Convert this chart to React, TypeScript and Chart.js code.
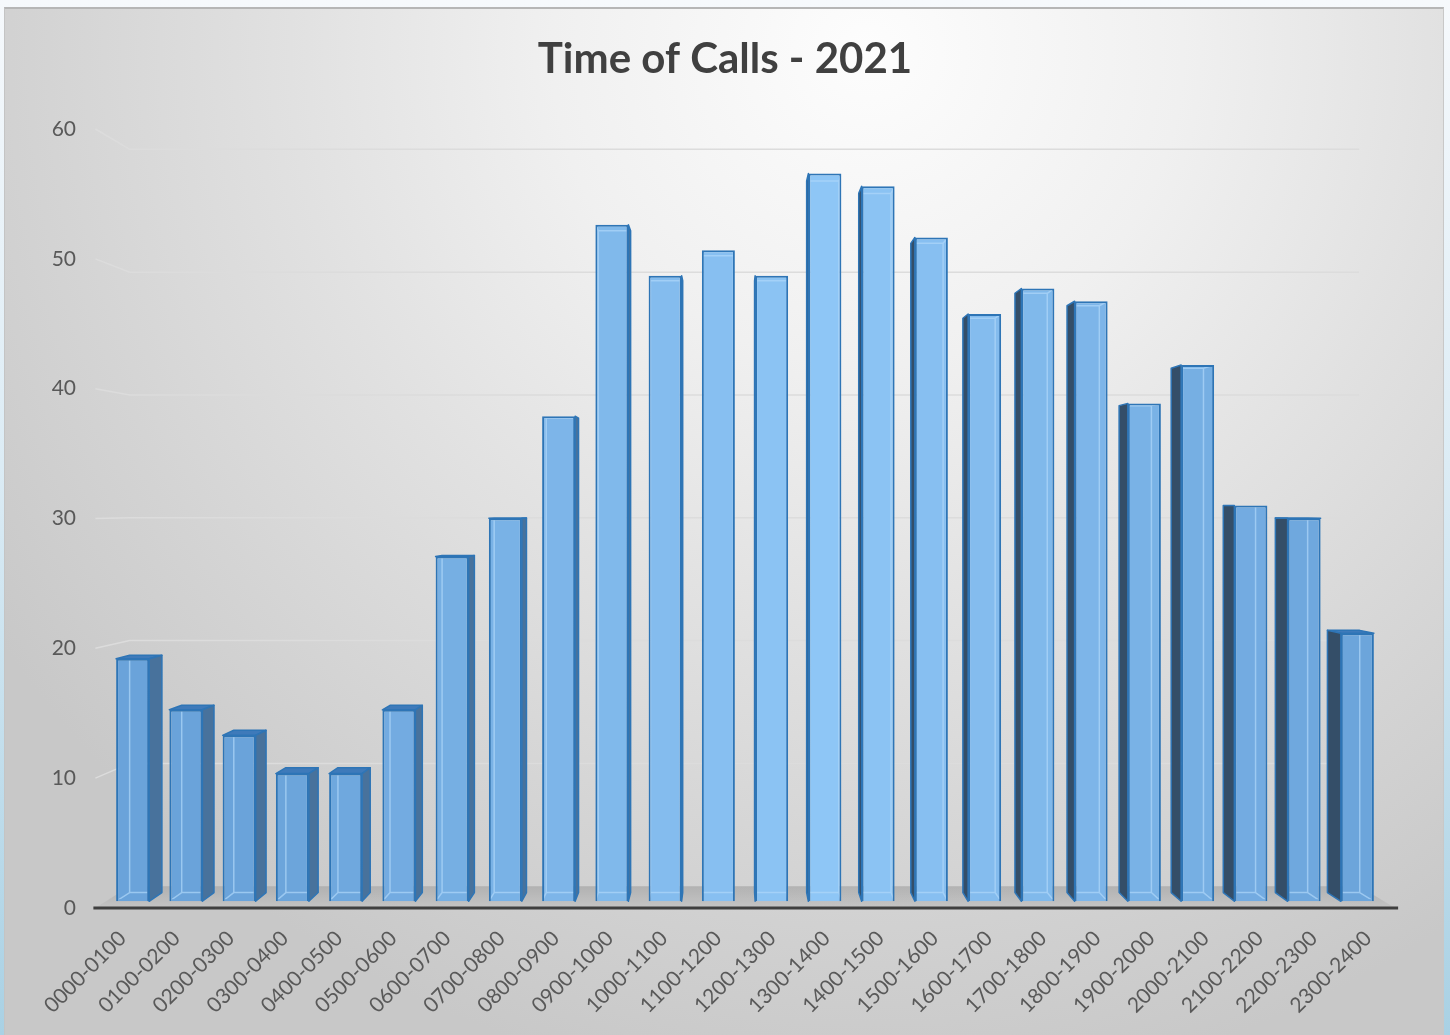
import React, { useEffect, useRef } from 'react';
import { Chart, registerables } from 'chart.js';

Chart.register(...registerables);

const TITLE = 'Time of Calls - 2021';
const CATEGORIES = [
  '0000-0100', '0100-0200', '0200-0300', '0300-0400', '0400-0500', '0500-0600',
  '0600-0700', '0700-0800', '0800-0900', '0900-1000', '1000-1100', '1100-1200',
  '1200-1300', '1300-1400', '1400-1500', '1500-1600', '1600-1700', '1700-1800',
  '1800-1900', '1900-2000', '2000-2100', '2100-2200', '2200-2300', '2300-2400',
];
const CALLS = [19, 15, 13, 10, 10, 15, 27, 30, 38, 53, 49, 51, 49, 57, 56, 52, 46, 48, 47, 39, 42, 31, 30, 21];
const Y_MIN = 0;
const Y_MAX = 60;
const Y_STEP = 10;

// 3-D look (Excel-like perspective)
const FRONT = 1.017;      // axis/label plane relative to bar plane
const BAR_BACK = 0.978;   // back face of each column
const WALL = 0.962;       // back wall (gridlines)
const VANISH_CAT = 11.72; // vanishing point, category units across plot
const VANISH_VAL = 31;    // vanishing point, value units

const N = CATEGORIES.length;
const BAR_AXIS_MIN = VANISH_VAL * (1 - FRONT);
const BAR_AXIS_MAX = VANISH_VAL + (Y_MAX - VANISH_VAL) * FRONT;
const LABEL_AXIS_MIN = VANISH_CAT * (1 - 1 / FRONT) - 0.5;
const LABEL_AXIS_MAX = VANISH_CAT + (N - VANISH_CAT) / FRONT - 0.5;

const FACE_EDGE = [106, 163, 218];
const FACE_MID = [142, 198, 246];
const BORDER = 'rgb(46,117,182)';

function faceColor(i: number) {
  const t = Math.max(0, 1 - Math.abs(i - 13) / 10.5);
  const c = FACE_EDGE.map((v, k) => Math.round(v + (FACE_MID[k] - v) * t));
  return `rgb(${c[0]},${c[1]},${c[2]})`;
}

function poly(ctx: CanvasRenderingContext2D, pts: number[][]) {
  ctx.beginPath();
  ctx.moveTo(pts[0][0], pts[0][1]);
  for (let k = 1; k < pts.length; k++) ctx.lineTo(pts[k][0], pts[k][1]);
  ctx.closePath();
}

function geometry(chart: any) {
  const ca = chart.chartArea;
  const yl = chart.scales.yl;
  const vx = ca.left + (VANISH_CAT / N) * (ca.right - ca.left);
  const vy = yl.getPixelForValue(VANISH_VAL);
  return { ca, yl, vx, vy };
}

const depthPlugin = {
  id: 'depth3d',
  beforeDatasetsDraw(chart: any) {
    const ctx: CanvasRenderingContext2D = chart.ctx;
    const { ca, yl, vx, vy } = geometry(chart);
    const px = (x: number, f: number) => vx + (x - vx) * f;
    const py = (y: number, f: number) => vy + (y - vy) * f;
    ctx.save();
    // walls: floor + gridlines
    for (const t of yl.ticks) {
      const yF = yl.getPixelForValue(t.value);
      const yB = vy + (yF - vy) / FRONT;
      const yW = py(yB, WALL);
      const xfl = px(ca.left, FRONT);
      const xfr = px(ca.right, FRONT);
      const xbl = px(ca.left, WALL);
      const xbr = px(ca.right, WALL);
      if (t.value === Y_MIN) {
        poly(ctx, [[xfl, yF], [xfr, yF], [xbr, yW], [xbl, yW]]);
        const g = ctx.createLinearGradient(0, yW, 0, yF);
        g.addColorStop(0, 'rgba(172,172,172,0.85)');
        g.addColorStop(1, 'rgba(195,195,195,0.85)');
        ctx.fillStyle = g;
        ctx.fill();
      } else {
        ctx.beginPath();
        ctx.moveTo(xfl, yF);
        ctx.lineTo(xbl, yW);
        ctx.lineTo(xbr, yW);
        ctx.strokeStyle = '#dcdcdc';
        ctx.lineWidth = 1.5;
        ctx.stroke();
      }
    }
    // column sides and tops
    const meta = chart.getDatasetMeta(0);
    meta.data.forEach((bar: any) => {
      const { x, y, base, width } = bar.getProps(['x', 'y', 'base', 'width'], true);
      const L = x - width / 2, R = x + width / 2, T = y, B = base;
      const bx = (v: number) => px(v, BAR_BACK);
      const by = (v: number) => py(v, BAR_BACK);
      ctx.lineWidth = 1.5;
      ctx.strokeStyle = BORDER;
      ctx.lineJoin = 'round';
      if (T > vy) {
        poly(ctx, [[L, T], [R, T], [bx(R), by(T)], [bx(L), by(T)]]);
        ctx.fillStyle = 'rgb(62,122,186)';
        ctx.fill();
        ctx.stroke();
      }
      if (R < vx) {
        poly(ctx, [[R, T], [bx(R), by(T)], [bx(R), by(B)], [R, B]]);
        ctx.fillStyle = 'rgb(72,114,156)';
        ctx.fill();
        ctx.stroke();
      }
      if (L > vx) {
        poly(ctx, [[L, T], [bx(L), by(T)], [bx(L), by(B)], [L, B]]);
        ctx.fillStyle = 'rgb(52,78,104)';
        ctx.fill();
        ctx.stroke();
      }
    });
    ctx.restore();
  },
  afterDatasetsDraw(chart: any) {
    const ctx: CanvasRenderingContext2D = chart.ctx;
    const { ca, yl, vx, vy } = geometry(chart);
    const px = (x: number, f: number) => vx + (x - vx) * f;
    const py = (y: number, f: number) => vy + (y - vy) * f;
    ctx.save();
    // see-through back edges of each column
    const meta = chart.getDatasetMeta(0);
    meta.data.forEach((bar: any) => {
      const { x, y, base, width } = bar.getProps(['x', 'y', 'base', 'width'], true);
      const L = x - width / 2, R = x + width / 2, T = y, B = base;
      const bx = (v: number) => px(v, BAR_BACK);
      const by = (v: number) => py(v, BAR_BACK);
      ctx.save();
      ctx.beginPath();
      ctx.rect(L + 2, T + 2, width - 4, B - T - 4);
      ctx.clip();
      ctx.beginPath();
      ctx.moveTo(bx(L), by(T));
      ctx.lineTo(bx(R), by(T));
      ctx.lineTo(bx(R), by(B));
      ctx.lineTo(bx(L), by(B));
      ctx.closePath();
      ctx.moveTo(L, T); ctx.lineTo(bx(L), by(T));
      ctx.moveTo(R, T); ctx.lineTo(bx(R), by(T));
      ctx.moveTo(L, B); ctx.lineTo(bx(L), by(B));
      ctx.moveTo(R, B); ctx.lineTo(bx(R), by(B));
      ctx.strokeStyle = 'rgba(175,215,250,0.7)';
      ctx.lineWidth = 1.5;
      ctx.stroke();
      ctx.restore();
    });
    // front edge of the floor (category axis line)
    const y0 = yl.getPixelForValue(Y_MIN);
    ctx.beginPath();
    ctx.moveTo(px(ca.left, FRONT) - 2, y0);
    ctx.lineTo(px(ca.right, FRONT) + 3, y0);
    ctx.strokeStyle = '#3f3f3f';
    ctx.lineWidth = 3;
    ctx.stroke();
    ctx.restore();
  },
};

export default function App() {
  const canvasRef = useRef<HTMLCanvasElement | null>(null);

  useEffect(() => {
    const canvas = canvasRef.current;
    if (!canvas) return;
    const font = 'Lato, "Open Sans", sans-serif';
    const chart = new Chart(canvas, {
      type: 'bar',
      data: {
        labels: CATEGORIES,
        datasets: [
          {
            label: 'Calls',
            data: CALLS,
            xAxisID: 'x',
            yAxisID: 'y',
            backgroundColor: (c: any) => faceColor(c.dataIndex),
            borderColor: BORDER,
            borderWidth: 2,
            categoryPercentage: 1,
            barPercentage: 0.62,
          },
        ],
      },
      options: {
        responsive: false,
        animation: false,
        events: [],
        layout: { autoPadding: false, padding: { left: 0, right: 0, top: 0, bottom: 0 } },
        plugins: {
          legend: { display: false },
          tooltip: { enabled: false },
          title: {
            display: true,
            text: TITLE,
            color: '#404040',
            font: { family: font, size: 42, weight: 'bold', lineHeight: 1.2 },
            padding: { top: 34, bottom: 44.6 },
          },
        },
        scales: {
          x: { type: 'category', display: false, offset: true, grid: { display: false } },
          y: { type: 'linear', display: false, min: BAR_AXIS_MIN, max: BAR_AXIS_MAX, bounds: 'data', grid: { display: false } },
          xl: {
            type: 'linear',
            position: 'bottom',
            offset: false,
            min: LABEL_AXIS_MIN,
            max: LABEL_AXIS_MAX,
            bounds: 'data',
            grid: { display: false, drawTicks: false, offset: false },
            border: { display: false },
            afterBuildTicks: (s: any) => {
              s.ticks = CATEGORIES.map((_, i) => ({ value: i }));
            },
            afterFit: (s: any) => { s.height = 127; },
            ticks: {
              autoSkip: false,
              minRotation: 45,
              maxRotation: 45,
              padding: 18,
              labelOffset: 0,
              color: '#595959',
              font: { family: font, size: 21 },
              callback: (v: any) => CATEGORIES[Math.round(v)] ?? '',
            },
          },
          yl: {
            type: 'linear',
            position: 'left',
            offset: false,
            min: Y_MIN,
            max: Y_MAX,
            bounds: 'data',
            grid: { display: false, drawTicks: false },
            border: { display: false },
            afterFit: (s: any) => { s.width = 106; },
            ticks: {
              stepSize: Y_STEP,
              padding: 30,
              color: '#595959',
              font: { family: font, size: 21 },
            },
          },
          yr: {
            type: 'linear',
            position: 'right',
            min: Y_MIN,
            max: Y_MAX,
            grid: { display: false, drawTicks: false },
            border: { display: false },
            ticks: { display: false },
            afterFit: (s: any) => { s.width = 66; },
          },
        },
      } as any,
      plugins: [depthPlugin],
    });
    return () => chart.destroy();
  }, []);

  return (
    <div
      style={{
        position: 'fixed',
        left: 0,
        top: 0,
        width: 1450,
        height: 1035,
        overflow: 'hidden',
        background: 'linear-gradient(180deg, #f6f9fc 0%, #dcecf5 45%, #a9d1e4 100%)',
      }}
    >
      <div
        style={{
          position: 'absolute',
          left: 4,
          top: 7,
          width: 1440,
          height: 1040,
          boxSizing: 'border-box',
          borderTop: '2px solid #b6b6b6',
          borderLeft: '1px solid #c4c4c4',
          borderRight: '1px solid #c8c8c8',
          background:
            'radial-gradient(ellipse 1050px 1050px at 60% 4%, #fdfdfd 0%, #f0f0f0 30%, #e1e1e1 55%, #d4d4d4 78%, #c8c8c8 100%)',
        }}
      />
      <canvas
        ref={canvasRef}
        width={1450}
        height={1035}
        style={{ position: 'absolute', left: 0, top: 0, width: 1450, height: 1035 }}
      />
    </div>
  );
}
